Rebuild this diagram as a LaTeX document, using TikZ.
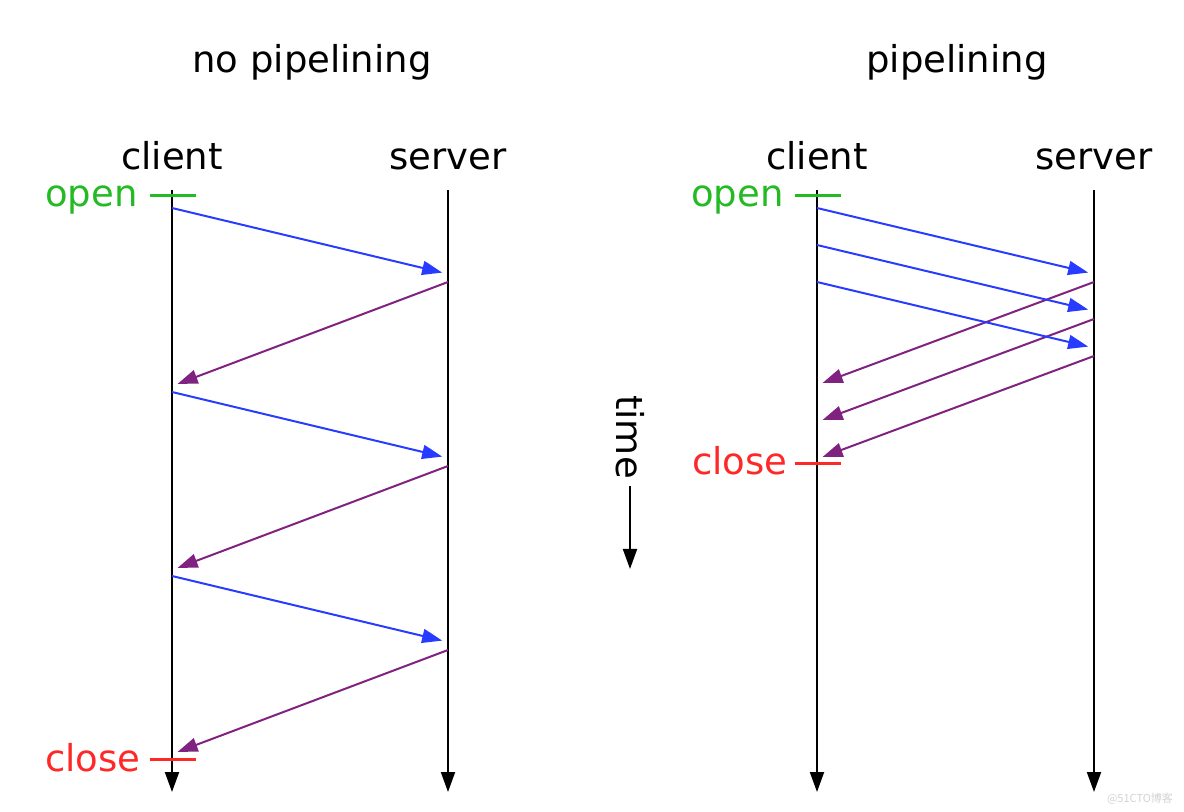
\documentclass[tikz,border=0pt]{standalone}
\usepackage{fontspec}
\setmainfont{DejaVu Sans}
\newfontfamily\cjk{Noto Sans CJK SC}
\usetikzlibrary{arrows.meta,positioning}
\definecolor{reqblue}{RGB}{40,60,255}
\definecolor{resppurple}{RGB}{128,34,128}
\definecolor{opengreen}{RGB}{36,186,36}
\definecolor{closered}{RGB}{255,40,40}
\tikzset{
  label/.style={font=\fontsize{18.5}{22}\selectfont,inner sep=0pt},
  lifeline/.style={line width=1pt,-{Triangle[length=10pt,width=7pt]}},
  request/.style={reqblue,line width=1pt,shorten >=3pt,-{Triangle[length=10pt,width=7pt]}},
  response/.style={resppurple,line width=1pt,shorten >=3pt,-{Triangle[length=10pt,width=7pt]}},
  tick/.style={line width=1.5pt},
}

\begin{document}
\begin{tikzpicture}[x=0.5pt,y=-0.5pt]
\useasboundingbox (0,0) rectangle (1184,812);

% no pipelining
\scope
\node[label,anchor=base] (title l) at (312,73) {no pipelining};
\node[label,anchor=base] (client l) at (172,170) {client};
\node[label,anchor=base] (server l) at (448,170) {server};
\coordinate (cl top) at (172,190);
\coordinate (cl bot) at (172,792);
\coordinate (sl top) at (448,190);
\coordinate (sl bot) at (448,792);
\draw[lifeline] (cl top) -- (cl bot);
\draw[lifeline] (sl top) -- (sl bot);
\foreach \i/\y in {1/208,2/392,3/576} {
  \coordinate (cl req\i) at (172,\y);
  \coordinate (sl req\i) at (448,\y+66);
  \coordinate (sl resp\i) at (448,\y+74);
  \coordinate (cl resp\i) at (172,\y+178);
  \draw[request] (cl req\i) -- (sl req\i);
  \draw[response] (sl resp\i) -- (cl resp\i);
}
\node[label,anchor=base east,text=opengreen] (open l) at (138,207) {open};
\node[label,anchor=base east,text=closered] (close l) at (141,771) {close};
\draw[tick,opengreen] (150,196) -- (196,196);
\draw[tick,closered] (150,759) -- (196,759);
\endscope

% time
\node[label,rotate=-90] (time) at (630,437) {time};
\coordinate (time top) at (630,486);
\coordinate (time bot) at (630,569);
\draw[lifeline] (time top) -- (time bot);

% pipelining
\scope
\node[label,anchor=base] (title r) at (957,73) {pipelining};
\node[label,anchor=base] (client r) at (817,170) {client};
\node[label,anchor=base] (server r) at (1094,170) {server};
\coordinate (cr top) at (817,190);
\coordinate (cr bot) at (817,792);
\coordinate (sr top) at (1094,190);
\coordinate (sr bot) at (1094,792);
\draw[lifeline] (cr top) -- (cr bot);
\draw[lifeline] (sr top) -- (sr bot);
\foreach \i/\y in {1/208,2/245,3/282} {
  \coordinate (cr req\i) at (817,\y);
  \coordinate (sr req\i) at (1094,\y+66);
  \coordinate (sr resp\i) at (1094,\y+74);
  \coordinate (cr resp\i) at (817,\y+177);
  \draw[request] (cr req\i) -- (sr req\i);
  \draw[response] (sr resp\i) -- (cr resp\i);
}
\node[label,anchor=base east,text=opengreen] (open r) at (784,207) {open};
\node[label,anchor=base east,text=closered] (close r) at (788,475) {close};
\draw[tick,opengreen] (795,196) -- (841,196);
\draw[tick,closered] (795,464) -- (841,464);
\endscope

\node[anchor=east,text=gray!35,font=\cjk\fontsize{5.5}{6}\selectfont] (mark) at (1180,799) {@51CTO博客};
\end{tikzpicture}
\end{document}
